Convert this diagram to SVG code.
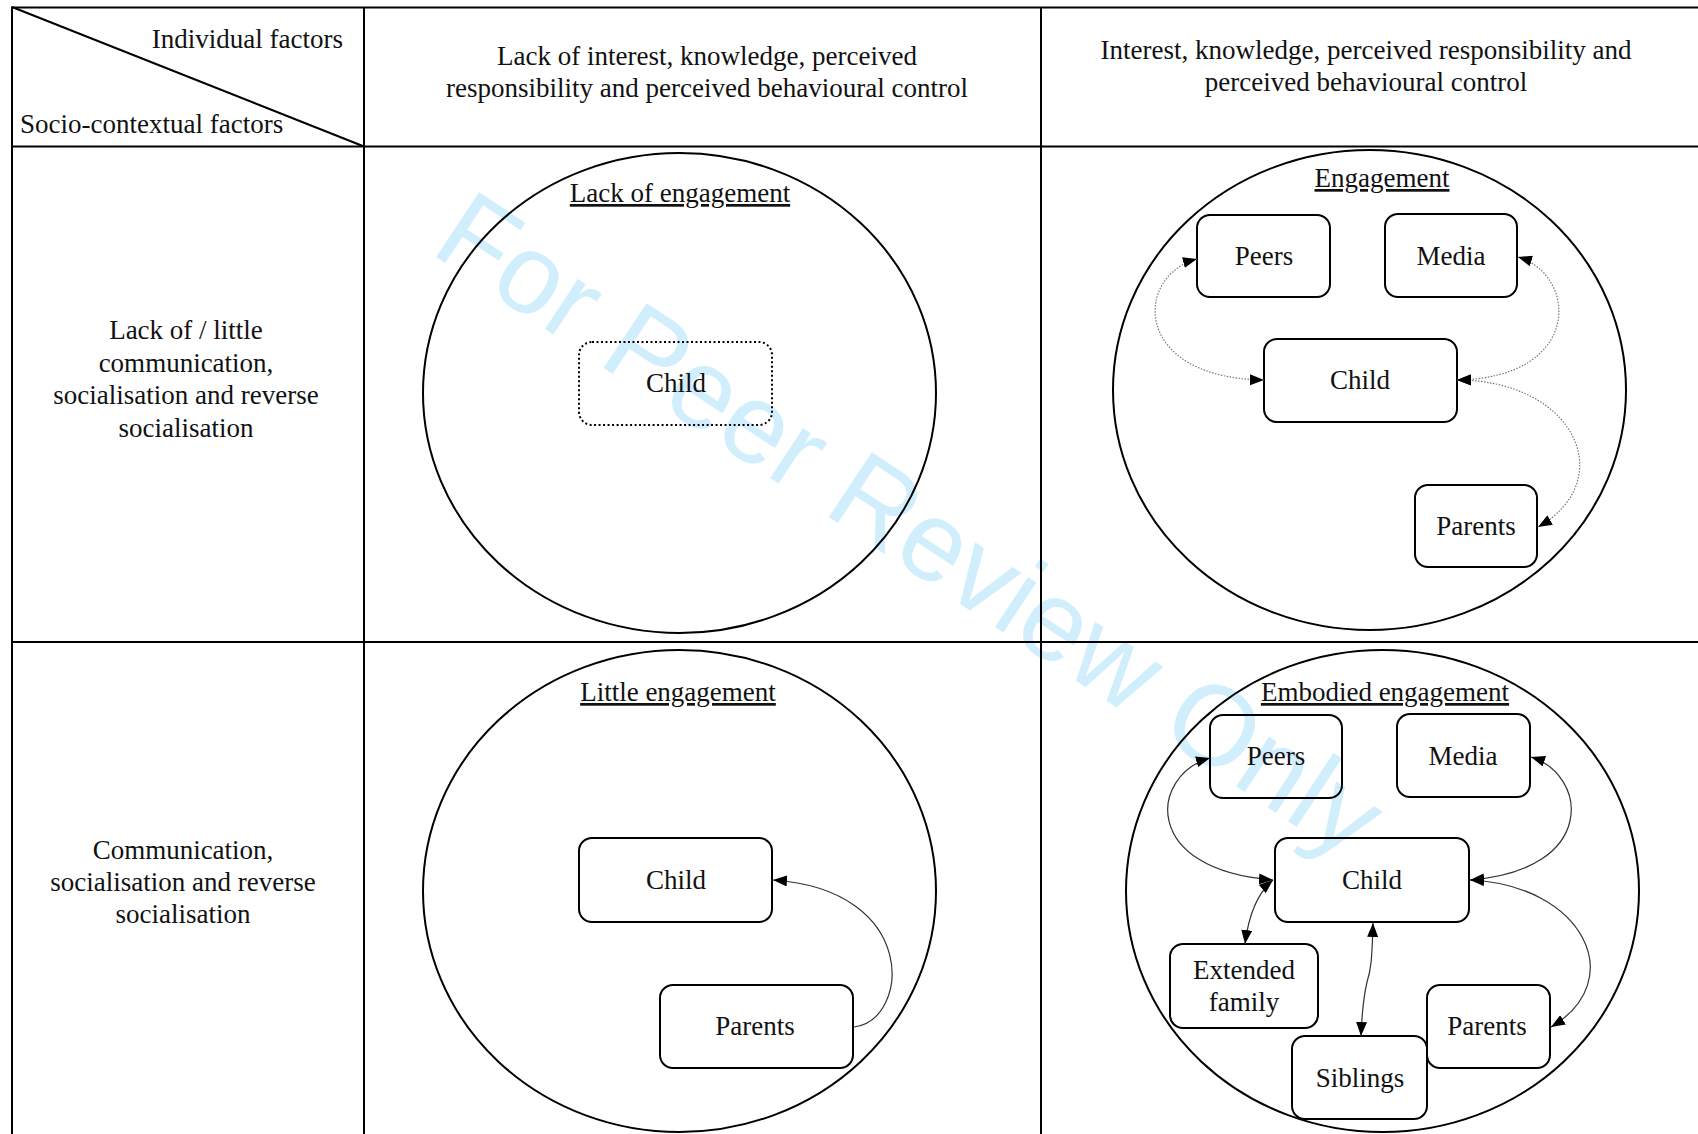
<svg xmlns="http://www.w3.org/2000/svg" width="1698" height="1134" viewBox="0 0 1698 1134">
<style>
  .t { font-family: "Liberation Serif", "Times New Roman", serif; font-size: 27px; fill: #111; }
  .c { text-anchor: middle; }
  .h { text-decoration: underline; }
  .grid { stroke: #000; stroke-width: 2; fill: none; }
  .circ { stroke: #000; stroke-width: 2; fill: none; }
  .box { stroke: #000; stroke-width: 2; fill: none; }
  .dotbox { stroke: #000; stroke-width: 2; fill: none; stroke-dasharray: 2 2.5; }
  .dl { stroke: #777; stroke-width: 1.2; fill: none; stroke-dasharray: 1.5 1.5; }
  .sl { stroke: #333; stroke-width: 1.2; fill: none; }
  .wm { font-family: "Liberation Sans", Arial, sans-serif; font-size: 113px; fill: #d0eefb; }
</style>
<defs>
  <marker id="ah" viewBox="0 0 14 11" refX="14" refY="5.5" markerWidth="14" markerHeight="11" markerUnits="userSpaceOnUse" orient="auto-start-reverse">
    <path d="M0,0 L14,5.5 L0,11 z" fill="#000"/>
  </marker>
</defs>
<rect width="1698" height="1134" fill="#fff"/>

<g id="watermark">
  <text class="wm" transform="translate(428.5,252) rotate(33.5)">For Peer Review Only</text>
</g>

<g id="table">
  <line class="grid" x1="11" y1="7.5" x2="1698" y2="7.5" stroke-width="2.5"/>
  <line class="grid" x1="12" y1="7" x2="12" y2="1134"/>
  <line class="grid" x1="364" y1="7" x2="364" y2="1134"/>
  <line class="grid" x1="1041" y1="7" x2="1041" y2="1134"/>
  <line class="grid" x1="11" y1="146.5" x2="1698" y2="146.5" stroke-width="2.5"/>
  <line class="grid" x1="11" y1="642" x2="1698" y2="642"/>
  <line class="grid" x1="12" y1="7" x2="364" y2="146.5"/>
</g>

<g id="header-corner">
  <text class="t" x="343" y="48" text-anchor="end">Individual factors</text>
  <text class="t" x="20" y="133">Socio-contextual factors</text>
</g>
<g id="header-col2">
  <text class="t c" x="707" y="65">Lack of interest, knowledge, perceived</text>
  <text class="t c" x="707" y="97">responsibility and perceived behavioural control</text>
</g>
<g id="header-col3">
  <text class="t c" x="1366" y="59">Interest, knowledge, perceived responsibility and</text>
  <text class="t c" x="1366" y="91">perceived behavioural control</text>
</g>
<g id="row1-label">
  <text class="t c" x="186" y="339">Lack of / little</text>
  <text class="t c" x="186" y="372">communication,</text>
  <text class="t c" x="186" y="404">socialisation and reverse</text>
  <text class="t c" x="186" y="437">socialisation</text>
</g>
<g id="row2-label">
  <text class="t c" x="183" y="859">Communication,</text>
  <text class="t c" x="183" y="891">socialisation and reverse</text>
  <text class="t c" x="183" y="923">socialisation</text>
</g>

<!-- Row 1, column 2 -->
<g id="lack-of-engagement">
  <ellipse class="circ" cx="679.5" cy="393" rx="256.5" ry="240"/>
  <text class="t c h" x="680" y="202">Lack of engagement</text>
</g>
<g id="r1c2-child">
  <rect class="dotbox" x="579" y="342" width="193" height="83" rx="13"/>
  <text class="t c" x="676" y="392">Child</text>
</g>

<!-- Row 1, column 3 -->
<g id="engagement">
  <ellipse class="circ" cx="1369.5" cy="390" rx="256.5" ry="240"/>
  <text class="t c h" x="1382" y="187">Engagement</text>
</g>
<g id="r1c3-peers">
  <rect class="box" x="1197" y="215" width="133" height="82" rx="13"/>
  <text class="t c" x="1264" y="265">Peers</text>
</g>
<g id="r1c3-media">
  <rect class="box" x="1385" y="214" width="132" height="83" rx="13"/>
  <text class="t c" x="1451" y="265">Media</text>
</g>
<g id="r1c3-child">
  <rect class="box" x="1264" y="339" width="193" height="83" rx="13"/>
  <text class="t c" x="1360" y="389">Child</text>
</g>
<g id="r1c3-parents">
  <rect class="box" x="1415" y="485" width="122" height="82" rx="13"/>
  <text class="t c" x="1476" y="535">Parents</text>
</g>

<!-- Row 2, column 2 -->
<g id="little-engagement">
  <ellipse class="circ" cx="679.5" cy="891" rx="256.5" ry="241"/>
  <text class="t c h" x="678" y="701">Little engagement</text>
</g>
<g id="r2c2-child">
  <rect class="box" x="579" y="838" width="193" height="84" rx="13"/>
  <text class="t c" x="676" y="889">Child</text>
</g>
<g id="r2c2-parents">
  <rect class="box" x="660" y="985" width="193" height="83" rx="13"/>
  <text class="t c" x="755" y="1035">Parents</text>
</g>

<!-- Row 2, column 3 -->
<g id="embodied-engagement">
  <ellipse class="circ" cx="1382.5" cy="891" rx="256.5" ry="241"/>
  <text class="t c h" x="1385" y="701">Embodied engagement</text>
</g>
<g id="r2c3-peers">
  <rect class="box" x="1210" y="715" width="132" height="83" rx="13"/>
  <text class="t c" x="1276" y="765">Peers</text>
</g>
<g id="r2c3-media">
  <rect class="box" x="1397" y="714" width="133" height="83" rx="13"/>
  <text class="t c" x="1463" y="765">Media</text>
</g>
<g id="r2c3-child">
  <rect class="box" x="1275" y="838" width="194" height="84" rx="13"/>
  <text class="t c" x="1372" y="889">Child</text>
</g>
<g id="r2c3-extended">
  <rect class="box" x="1170" y="944" width="148" height="84" rx="13"/>
  <text class="t c" x="1244" y="979">Extended</text>
  <text class="t c" x="1244" y="1011">family</text>
</g>
<g id="r2c3-parents">
  <rect class="box" x="1427" y="985" width="123" height="83" rx="13"/>
  <text class="t c" x="1487" y="1035">Parents</text>
</g>
<g id="r2c3-siblings">
  <rect class="box" x="1292" y="1036" width="135" height="83" rx="13"/>
  <text class="t c" x="1360" y="1087">Siblings</text>
</g>

<g id="connectors">
  <!-- row 1 engagement (dotted) -->
  <path class="dl" d="M1197,259 C1135,275 1130,378 1264,380" marker-start="url(#ah)" marker-end="url(#ah)"/>
  <path class="dl" d="M1518,257 C1578,275 1583,378 1457,380" marker-start="url(#ah)" marker-end="url(#ah)"/>
  <path class="dl" d="M1457,380 C1575,380 1620,480 1538,527" marker-start="url(#ah)" marker-end="url(#ah)"/>
  <!-- row 2 little engagement -->
  <path class="sl" d="M854,1027 C910,1020 920,890 773,880" marker-end="url(#ah)"/>
  <!-- row 2 embodied engagement -->
  <path class="sl" d="M1210,758 C1150,775 1140,870 1273,880" marker-start="url(#ah)" marker-end="url(#ah)"/>
  <path class="sl" d="M1531,757 C1588,775 1598,870 1470,880" marker-start="url(#ah)" marker-end="url(#ah)"/>
  <path class="sl" d="M1470,880 C1583,885 1630,980 1551,1027" marker-start="url(#ah)" marker-end="url(#ah)"/>
  <path class="sl" d="M1273,880 C1255,895 1248,920 1245,944" marker-start="url(#ah)" marker-end="url(#ah)"/>
  <path class="sl" d="M1373,923 C1372,960 1371,970 1367,982 C1364,995 1362,1010 1361,1036" marker-start="url(#ah)" marker-end="url(#ah)"/>
</g>
</svg>
